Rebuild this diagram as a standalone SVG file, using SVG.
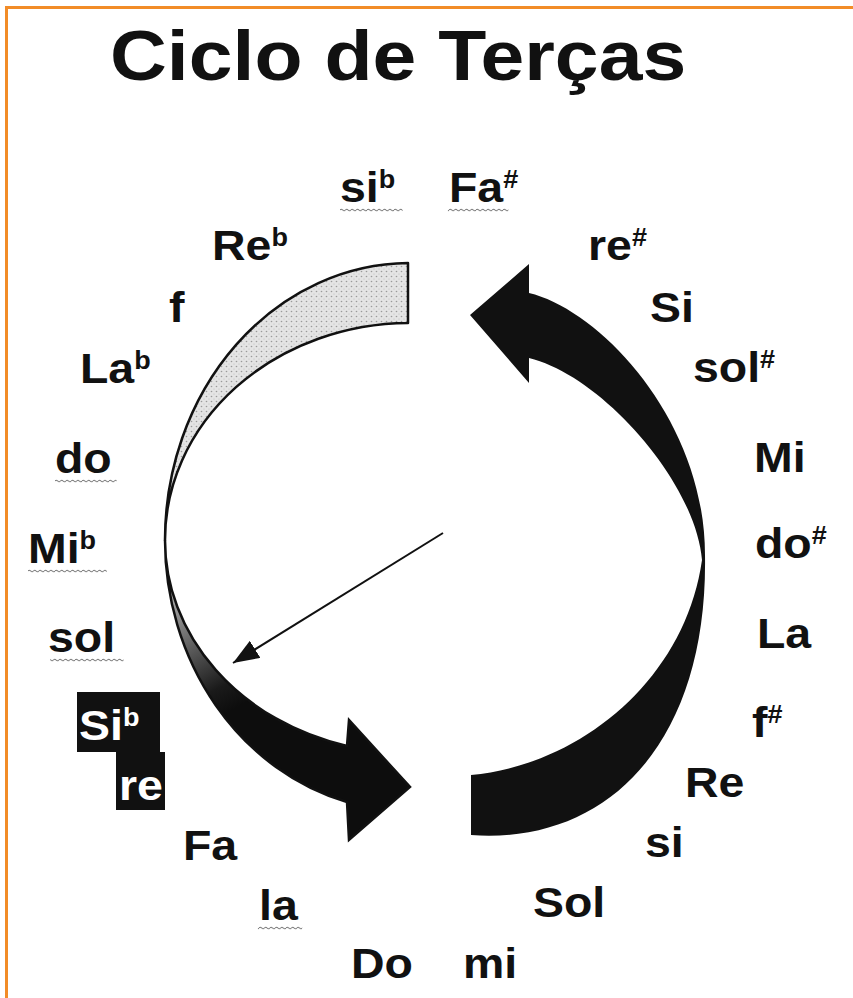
<svg xmlns="http://www.w3.org/2000/svg" width="853" height="998" viewBox="0 0 853 998">
<style>
.lbl{font-family:"Liberation Sans",Arial,sans-serif;font-weight:bold;font-size:43px;fill:#111}
.sup{font-size:25px}
.inv{fill:#fff}
.wave{fill:url(#wave)}
.frame{stroke:#F28C28;stroke-width:3;fill:none}
</style>
<defs>
<pattern id="wave" x="0" y="2" width="5" height="4" patternUnits="userSpaceOnUse">
<path d="M0 2 Q1.25 0.4 2.5 2 T5 2" fill="none" stroke="#777" stroke-width="0.9"/>
</pattern>
<pattern id="stipple" width="5" height="5" patternUnits="userSpaceOnUse">
<rect width="5" height="5" fill="#e4e4e4"/>
<circle cx="1.5" cy="1.5" r="0.8" fill="#9a9a9a"/>
<circle cx="4" cy="4" r="0.5" fill="#b5b5b5"/>
</pattern>
<linearGradient id="shade" gradientUnits="userSpaceOnUse" x1="166" y1="550" x2="250" y2="700">
<stop offset="0" stop-color="#d4d4d4"/>
<stop offset="0.3" stop-color="#a0a0a0"/>
<stop offset="0.6" stop-color="#555"/>
<stop offset="0.85" stop-color="#1a1a1a"/>
<stop offset="1" stop-color="#0d0d0d"/>
</linearGradient>
<marker id="ah" viewBox="0 0 26 20" refX="26" refY="10" markerWidth="26" markerHeight="20" markerUnits="userSpaceOnUse" orient="auto">
<path d="M0,0 L26,10 L0,20 Z" fill="#111"/>
</marker>
</defs>
<rect width="853" height="998" fill="#fff"/>
<path class="frame" d="M6.5,998 V7.5 H853"/>

<g id="title" transform="translate(110,80) scale(1.125,1)"><text class="lbl" style="font-size:70px">Ciclo de Terças</text></g>

<g id="arrows">
<path id="left-arrow-top" d="M408,263 A245,277 0 0 0 165,540 A245,217 0 0 1 408,323 Z" fill="url(#stipple)" stroke="#111" stroke-width="2.5" stroke-linejoin="round"/>
<path id="left-arrow-bottom" d="M165,540 A245,213 0 0 0 347,746 L349,720 L410,787 L349,840 L347,802 A245,271 0 0 1 165,540 Z" fill="url(#shade)" stroke="#111" stroke-width="2.5" stroke-linejoin="miter"/>
<path id="right-arrow" d="M471,775 C580,765 685,680 702,560 C695,480 600,375 529,358 L529,383 L470,315 L529,264 L529,293 C600,310 705,420 705,555 C708,740 610,845 471,835 Z" fill="#111"/>
</g>

<g id="connectors">
<line x1="443" y1="533" x2="233" y2="663" stroke="#111" stroke-width="2" marker-end="url(#ah)"/>
</g>

<g id="n-sib" transform="translate(340,202) scale(1.08,1)"><text class="lbl">si<tspan class="sup" dy="-14">b</tspan></text><rect class="wave" x="0" y="6" width="58" height="4"/></g>
<g id="n-Fas" transform="translate(449,202) scale(1.08,1)"><text class="lbl">Fa<tspan class="sup" dy="-14">#</tspan></text><rect class="wave" x="-1" y="6" width="56" height="4"/></g>
<g id="n-Reb" transform="translate(212,260) scale(1.08,1)"><text class="lbl">Re<tspan class="sup" dy="-14">b</tspan></text></g>
<g id="n-res" transform="translate(588,260) scale(1.08,1)"><text class="lbl">re<tspan class="sup" dy="-14">#</tspan></text></g>
<g id="n-f" transform="translate(169,322) scale(1.08,1)"><text class="lbl">f</text></g>
<g id="n-Si" transform="translate(650,322) scale(1.08,1)"><text class="lbl">Si</text></g>
<g id="n-Lab" transform="translate(80,383) scale(1.08,1)"><text class="lbl">La<tspan class="sup" dy="-14">b</tspan></text></g>
<g id="n-sols" transform="translate(693,382) scale(1.08,1)"><text class="lbl">sol<tspan class="sup" dy="-14">#</tspan></text></g>
<g id="n-do" transform="translate(55,473) scale(1.08,1)"><text class="lbl">do</text><rect class="wave" x="0" y="6" width="57" height="4"/></g>
<g id="n-Mi" transform="translate(754,472) scale(1.08,1)"><text class="lbl">Mi</text></g>
<g id="n-Mib" transform="translate(28,563) scale(1.08,1)"><text class="lbl">Mi<tspan class="sup" dy="-14">b</tspan></text><rect class="wave" x="0" y="6" width="73" height="4"/></g>
<g id="n-dos" transform="translate(755,558) scale(1.08,1)"><text class="lbl">do<tspan class="sup" dy="-14">#</tspan></text></g>
<g id="n-sol" transform="translate(48,652) scale(1.08,1)"><text class="lbl">sol</text><rect class="wave" x="2" y="6" width="68" height="4"/></g>
<g id="n-La" transform="translate(757,648) scale(1.08,1)"><text class="lbl">La</text></g>
<g id="n-Sib-re">
<path d="M77,692 H160 V752 H165 V810 H116 V752 H77 Z" fill="#111"/>
<g transform="translate(79,740) scale(1.08,1)"><text class="lbl inv">Si<tspan class="sup" dy="-14">b</tspan></text></g>
<g transform="translate(119,800) scale(1.08,1)"><text class="lbl inv">re</text></g>
</g>
<g id="n-fs" transform="translate(752,737) scale(1.08,1)"><text class="lbl">f<tspan class="sup" dy="-14">#</tspan></text></g>
<g id="n-Re" transform="translate(685,797) scale(1.08,1)"><text class="lbl">Re</text></g>
<g id="n-Fa" transform="translate(183,860) scale(1.08,1)"><text class="lbl">Fa</text></g>
<g id="n-si" transform="translate(645,857) scale(1.08,1)"><text class="lbl">si</text></g>
<g id="n-la" transform="translate(259,920) scale(1.08,1)"><text class="lbl">la</text><rect class="wave" x="-1" y="6" width="41" height="4"/></g>
<g id="n-Sol" transform="translate(533,917) scale(1.08,1)"><text class="lbl">Sol</text></g>
<g id="n-Do" transform="translate(351,978) scale(1.08,1)"><text class="lbl">Do</text></g>
<g id="n-mi" transform="translate(463,978) scale(1.08,1)"><text class="lbl">mi</text></g>
</svg>
